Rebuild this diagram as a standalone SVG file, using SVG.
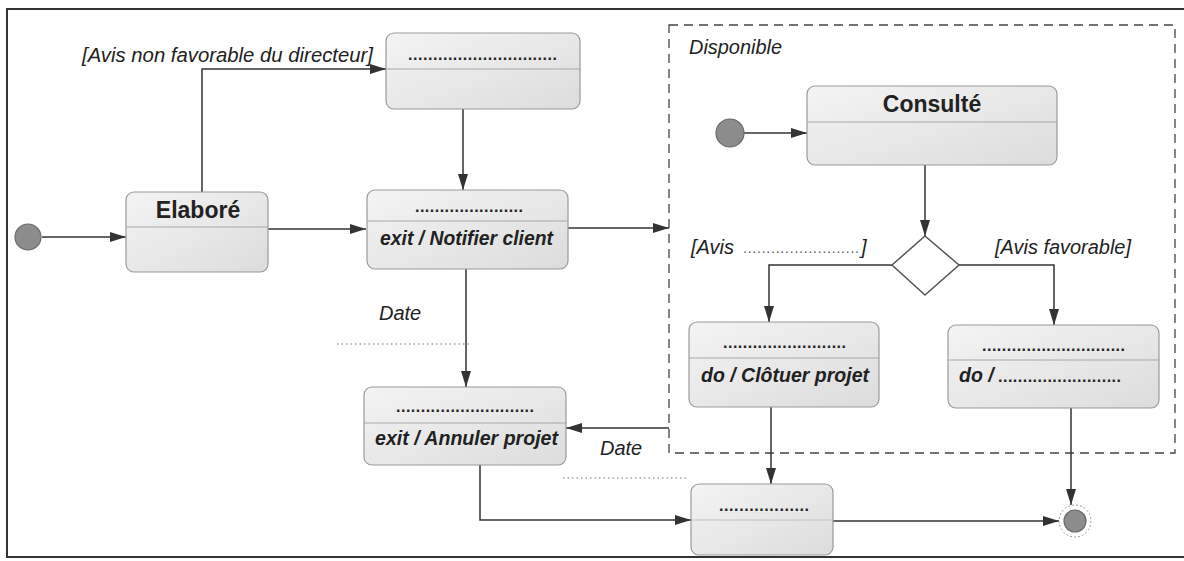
<svg xmlns="http://www.w3.org/2000/svg" width="1184" height="561" viewBox="0 0 1184 561">
<defs>
<linearGradient id="g" x1="0" y1="0" x2="1" y2="1">
<stop offset="0" stop-color="#f4f4f4"/>
<stop offset="1" stop-color="#dcdcdc"/>
</linearGradient>
<marker id="ah" viewBox="0 0 16 10" refX="16" refY="5" markerWidth="16" markerHeight="10" markerUnits="userSpaceOnUse" orient="auto">
<path d="M0,0 L16,5 L0,10 Z" fill="#333"/>
</marker>
</defs>
<style>
.box{fill:url(#g);stroke:#9a9a9a;stroke-width:1.2}
.div{stroke:#a8a8a8;stroke-width:1}
.title{font-family:"Liberation Sans",Arial,sans-serif;font-weight:bold;font-size:23px;fill:#222;text-anchor:middle}
.act{font-family:"Liberation Sans",Arial,sans-serif;font-weight:bold;font-style:italic;font-size:19.5px;fill:#222}
.dots{font-family:"Liberation Sans",Arial,sans-serif;font-weight:bold;font-size:16px;fill:#222}
.lbl{font-family:"Liberation Sans",Arial,sans-serif;font-style:italic;font-size:20px;fill:#222}
.ldots{font-family:"Liberation Sans",Arial,sans-serif;font-size:14px;fill:#555}
.conn{fill:none;stroke:#333;stroke-width:1.5;marker-end:url(#ah)}
.dotted{fill:none;stroke:#777;stroke-width:1.2;stroke-dasharray:1.5 3}
.init{fill:#8c8c8c;stroke:#6a6a6a;stroke-width:1.2}
</style>
<rect width="1184" height="561" fill="#ffffff"/>
<path d="M1184,9 H7 V557 H1184" fill="none" stroke="#333" stroke-width="2"/>

<g id="disponible">
<rect x="669" y="25" width="506" height="428" fill="none" stroke="#444" stroke-width="1.3" stroke-dasharray="9 6"/>
<text class="lbl" x="689" y="54" textLength="93" lengthAdjust="spacingAndGlyphs">Disponible</text>
</g>

<g id="connectors">
<path class="conn" d="M42,237 H126"/>
<path class="conn" d="M268,229 H366"/>
<path class="conn" d="M202,192 V69 H386"/>
<path class="conn" d="M463,109 V190"/>
<path class="conn" d="M568,228 H669"/>
<path class="conn" d="M466,269 V387"/>
<path class="conn" d="M669,428 H566"/>
<path class="conn" d="M480,465 V520 H691"/>
<path class="conn" d="M744,133 H807"/>
<path class="conn" d="M925,165 V236"/>
<path class="conn" d="M892,265 H769 V322"/>
<path class="conn" d="M959,265 H1054 V325"/>
<path class="conn" d="M771,407 V484"/>
<path class="conn" d="M1071,408 V505"/>
<path class="conn" d="M833,521 H1059"/>
<line class="dotted" x1="337" y1="344" x2="471" y2="344"/>
<line class="dotted" x1="563" y1="478" x2="686" y2="478"/>
<text class="lbl" x="82" y="62" textLength="291" lengthAdjust="spacingAndGlyphs">[Avis non favorable du directeur]</text>
<text class="lbl" x="379" y="320">Date</text>
<text class="lbl" x="600" y="455">Date</text>
<text class="lbl" x="691" y="254">[Avis</text>
<text class="ldots" x="743" y="253" textLength="116" lengthAdjust="spacing">.........................</text>
<text class="lbl" x="861" y="254">]</text>
<text class="lbl" x="995" y="254" textLength="136" lengthAdjust="spacingAndGlyphs">[Avis favorable]</text>
</g>

<g id="initial">
<circle class="init" cx="28" cy="237" r="13"/>
</g>

<g id="elabore">
<rect class="box" x="126" y="192" width="142" height="80" rx="8"/>
<line class="div" x1="126" y1="227" x2="268" y2="227"/>
<text class="title" x="198" y="218">Elaboré</text>
</g>

<g id="etatA">
<rect class="box" x="386" y="33" width="194" height="76" rx="8"/>
<line class="div" x1="386" y1="69" x2="580" y2="69"/>
<text class="dots" x="408" y="60" textLength="149" lengthAdjust="spacing">..............................</text>
</g>

<g id="notifier">
<rect class="box" x="367" y="190" width="201" height="79" rx="8"/>
<line class="div" x1="367" y1="221" x2="568" y2="221"/>
<text class="dots" x="415" y="212" textLength="108" lengthAdjust="spacing">......................</text>
<text class="act" x="380" y="245" textLength="173" lengthAdjust="spacingAndGlyphs">exit / Notifier client</text>
</g>

<g id="annuler">
<rect class="box" x="364" y="387" width="202" height="78" rx="8"/>
<line class="div" x1="364" y1="423" x2="566" y2="423"/>
<text class="dots" x="396" y="412" textLength="138" lengthAdjust="spacing">............................</text>
<text class="act" x="375" y="445" textLength="183" lengthAdjust="spacingAndGlyphs">exit / Annuler projet</text>
</g>

<g id="initial2">
<circle class="init" cx="730" cy="133" r="14"/>
</g>

<g id="consulte">
<rect class="box" x="807" y="86" width="250" height="79" rx="8"/>
<line class="div" x1="807" y1="122" x2="1057" y2="122"/>
<text class="title" x="932" y="112">Consulté</text>
</g>

<g id="decision">
<polygon points="925,236 959,265 925,295 892,265" fill="#ffffff" stroke="#555" stroke-width="1.5"/>
</g>

<g id="cloturer">
<rect class="box" x="689" y="322" width="190" height="85" rx="8"/>
<line class="div" x1="689" y1="358" x2="879" y2="358"/>
<text class="dots" x="723" y="348" textLength="123" lengthAdjust="spacing">.........................</text>
<text class="act" x="701" y="382" textLength="168" lengthAdjust="spacingAndGlyphs">do / Clôtuer projet</text>
</g>

<g id="etatD">
<rect class="box" x="948" y="325" width="211" height="83" rx="8"/>
<line class="div" x1="948" y1="360" x2="1159" y2="360"/>
<text class="dots" x="982" y="351" textLength="143" lengthAdjust="spacing">.............................</text>
<text class="act" x="959" y="382">do /</text>
<text class="dots" x="998" y="382" textLength="123" lengthAdjust="spacing">.........................</text>
</g>

<g id="etatE">
<rect class="box" x="691" y="484" width="142" height="71" rx="8"/>
<line class="div" x1="691" y1="520" x2="833" y2="520" stroke-opacity="0.6"/>
<text class="dots" x="719" y="511" textLength="90" lengthAdjust="spacing">..................</text>
</g>

<g id="final">
<circle cx="1075" cy="521" r="16" fill="#ffffff" stroke="#999" stroke-width="1" stroke-dasharray="2 2"/>
<circle class="init" cx="1075" cy="521" r="11"/>
</g>
</svg>
